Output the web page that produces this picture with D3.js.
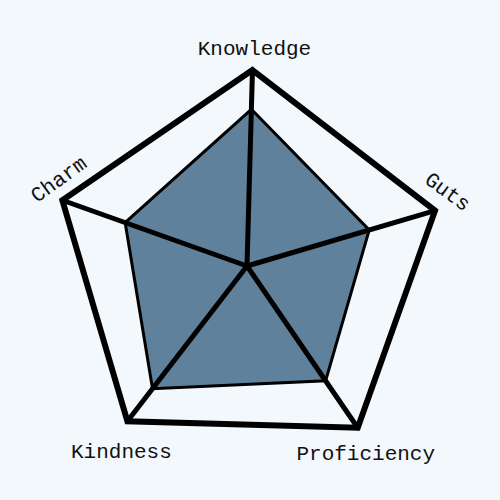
<!DOCTYPE html>
<html>
<head>
<meta charset="utf-8">
<script src="https://cdn.jsdelivr.net/npm/d3@7"></script>
<style>
  html, body { margin: 0; padding: 0; background: #f3f8fd; }
  svg { display: block; }
  text { font-family: "Liberation Mono", "DejaVu Sans Mono", monospace; font-size: 21px; fill: #111; }
</style>
</head>
<body>
<svg id="chart" width="500" height="500"></svg>
<script>
const axes = ["Knowledge", "Guts", "Proficiency", "Kindness", "Charm"];
const values = [8.0, 6.5, 7.1, 7.9, 6.6];
const maxValue = 10;

// label layout (rotation in degrees, offset from the axis end in px)
const labelRotation = [0, 36, 0, 0, -36];
const labelDx = [2, 12, 8, -6, -3];
const labelDy = [-21, -18, 27, 31, -20];

const W = 500, H = 500;
const cx = 247, cy = 266, R = 196;
const offset = 1.6 * Math.PI / 180;

const svg = d3.select("#chart");
svg.append("rect").attr("width", W).attr("height", H).attr("fill", "#f3f8fd");

const r = d3.scaleLinear().domain([0, maxValue]).range([0, R]);
const step = 2 * Math.PI / axes.length;
const a = i => i * step + offset;

const g = svg.append("g").attr("transform", `translate(${cx},${cy})`);

const radial = d3.lineRadial()
  .angle((d, i) => a(i))
  .radius(d => r(d))
  .curve(d3.curveLinearClosed);

// filled data area
g.append("path")
  .datum(values)
  .attr("d", radial)
  .attr("fill", "#5f819c")
  .attr("stroke", "none");

// outer frame
g.append("path")
  .datum(axes.map(() => maxValue))
  .attr("d", radial)
  .attr("fill", "none")
  .attr("stroke", "#000")
  .attr("stroke-width", 6)
  .attr("stroke-linejoin", "miter");

// data outline
g.append("path")
  .datum(values)
  .attr("d", radial)
  .attr("fill", "none")
  .attr("stroke", "#000")
  .attr("stroke-width", 3)
  .attr("stroke-linejoin", "miter");

// spokes
g.selectAll("line.spoke")
  .data(axes)
  .join("line")
  .attr("class", "spoke")
  .attr("x1", 0).attr("y1", 0)
  .attr("x2", (d, i) => r(maxValue) * Math.sin(a(i)))
  .attr("y2", (d, i) => -r(maxValue) * Math.cos(a(i)))
  .attr("stroke", "#000")
  .attr("stroke-width", 5)
  .attr("stroke-linecap", "round");

// labels
g.selectAll("text.label")
  .data(axes)
  .join("text")
  .attr("class", "label")
  .attr("text-anchor", "middle")
  .attr("dominant-baseline", "central")
  .attr("transform", (d, i) => {
    const x = r(maxValue) * Math.sin(a(i)) + labelDx[i];
    const y = -r(maxValue) * Math.cos(a(i)) + labelDy[i];
    return `translate(${x},${y}) rotate(${labelRotation[i]})`;
  })
  .text(d => d);
</script>
</body>
</html>
